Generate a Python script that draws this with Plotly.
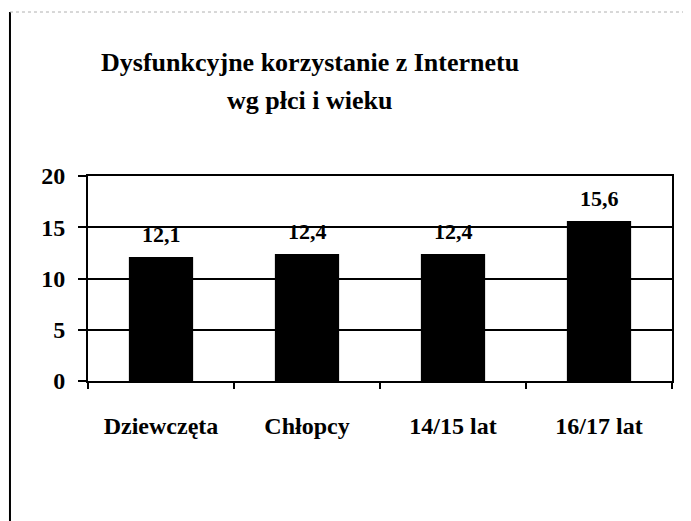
import plotly.graph_objects as go

categories = ["Dziewczęta", "Chłopcy", "14/15 lat", "16/17 lat"]
values = [12.1, 12.4, 12.4, 15.6]
value_labels = ["12,1", "12,4", "12,4", "15,6"]
y_ticks = [0, 5, 10, 15, 20]
title_lines = ["Dysfunkcyjne korzystanie z Internetu", "wg płci i wieku"]

FONT = "Liberation Serif"

fig = go.Figure()
fig.add_trace(go.Bar(
    x=categories, y=values, marker=dict(color="black", line=dict(width=0)),
    width=0.44, hoverinfo="skip",
))

for c, v, lab in zip(categories, values, value_labels):
    fig.add_annotation(x=c, y=v, text=lab, showarrow=False, yanchor="bottom", xanchor="center",
                       yshift=8, font=dict(family=FONT, size=22, color="black", weight="bold"))

fig.add_annotation(xref="paper", yref="paper", x=0.38, y=1.555, text=title_lines[0],
                   showarrow=False, xanchor="center", yanchor="middle",
                   font=dict(family=FONT, size=26, color="black", weight="bold"))
fig.add_annotation(xref="paper", yref="paper", x=0.38, y=1.37, text=title_lines[1],
                   showarrow=False, xanchor="center", yanchor="middle",
                   font=dict(family=FONT, size=26, color="black", weight="bold"))

# scan frame
fig.add_shape(type="line", xref="paper", yref="paper", x0=-0.1336, x1=-0.1336, y0=1.8, y1=-0.7,
              line=dict(color="black", width=2))
fig.add_shape(type="line", xref="paper", yref="paper", x0=-0.1336, x1=1.04, y0=1.8, y1=1.8,
              line=dict(color="#b0b0b0", width=1, dash="dot"))

fig.update_layout(
    width=683, height=513,
    margin=dict(l=80, r=19, t=168, b=140),
    paper_bgcolor="white", plot_bgcolor="white",
    showlegend=False,
    xaxis=dict(
        showline=True, linecolor="black", linewidth=2, mirror=True,
        ticks="outside", tickson="boundaries", ticklen=6, tickwidth=2, tickcolor="black",
        tickfont=dict(family=FONT, size=24, color="black", weight="bold"),
        ticklabelstandoff=22, showgrid=False,
    ),
    yaxis=dict(
        range=[0, 20], tickvals=y_ticks,
        showline=True, linecolor="black", linewidth=2, mirror=True,
        showgrid=True, gridcolor="black", gridwidth=2,
        ticks="outside", ticklen=8, tickwidth=2, tickcolor="black",
        tickfont=dict(family=FONT, size=24, color="black", weight="bold"),
        ticklabelstandoff=8, zeroline=False,
    ),
)

fig.write_html("out.html")
